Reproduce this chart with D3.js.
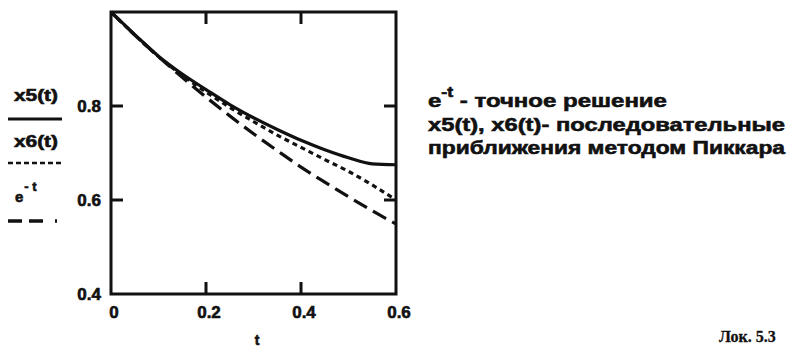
<!DOCTYPE html>
<html>
<head>
<meta charset="utf-8">
<script src="https://cdn.jsdelivr.net/npm/d3@7"></script>
<style>
  body { margin: 0; background: #fff; }
  text { font-family: "Liberation Sans", Arial, sans-serif; font-weight: bold; fill: #111;
         stroke: #111; stroke-width: 0.6px; }
</style>
</head>
<body>
<div id="chart"></div>
<script>
// values
var tValues   = [0, 0.05, 0.1, 0.15, 0.2, 0.25, 0.3, 0.35, 0.4, 0.45, 0.5, 0.55, 0.6];
var x5Values  = [1, 0.952, 0.906, 0.868, 0.835, 0.803, 0.775, 0.750, 0.727, 0.707, 0.690, 0.677, 0.675];
var x6Values  = [1, 0.951, 0.905, 0.865, 0.830, 0.797, 0.767, 0.738, 0.712, 0.686, 0.661, 0.632, 0.600];
var expValues = [1, 0.951, 0.905, 0.861, 0.819, 0.779, 0.741, 0.705, 0.670, 0.638, 0.607, 0.577, 0.549];
var xTicks = [0, 0.2, 0.4, 0.6];
var yTicks = [0.4, 0.6, 0.8];
var noteLines = ["x5(t), x6(t)- последовательные", "приближения методом Пиккара"];

var width = 790, height = 348;
var svg = d3.select("#chart").append("svg")
    .attr("width", width).attr("height", height);

var x = d3.scaleLinear().domain([0, 0.6]).range([111, 396]);
var y = d3.scaleLinear().domain([0.4, 1.0]).range([294, 12]);

// inner ticks on all four sides
var tickLen = 12;
var g = svg.append("g").attr("stroke", "#111").attr("stroke-width", 3);
[0.2, 0.4].forEach(function(v) {
    g.append("line").attr("x1", x(v)).attr("x2", x(v)).attr("y1", y(0.4)).attr("y2", y(0.4) - tickLen);
    g.append("line").attr("x1", x(v)).attr("x2", x(v)).attr("y1", y(1)).attr("y2", y(1) + tickLen);
});
[0.6, 0.8].forEach(function(v) {
    g.append("line").attr("y1", y(v)).attr("y2", y(v)).attr("x1", x(0)).attr("x2", x(0) + tickLen);
    g.append("line").attr("y1", y(v)).attr("y2", y(v)).attr("x1", x(0.6)).attr("x2", x(0.6) - tickLen);
});

// curves
var line = d3.line().x(function(d) { return x(d[0]); }).y(function(d) { return y(d[1]); })
    .curve(d3.curveMonotoneX);
var series = [
    { vals: x5Values, dash: null },
    { vals: x6Values, dash: "5,4" },
    { vals: expValues, dash: "15,7" }
];
series.forEach(function(s) {
    svg.append("path")
        .datum(tValues.map(function(t, i) { return [t, s.vals[i]]; }))
        .attr("d", line)
        .attr("fill", "none")
        .attr("stroke", "#111")
        .attr("stroke-width", 3.2)
        .attr("stroke-dasharray", s.dash);
});

// frame
svg.append("rect")
    .attr("x", x(0)).attr("y", y(1))
    .attr("width", x(0.6) - x(0)).attr("height", y(0.4) - y(1))
    .attr("fill", "none").attr("stroke", "#111").attr("stroke-width", 3);

// tick labels
svg.selectAll(".xl").data(xTicks).enter().append("text")
    .attr("x", function(d) { return x(d) + 3; })
    .attr("y", 318)
    .attr("text-anchor", "middle")
    .style("font-size", "17px")
    .text(function(d) { return d === 0 ? "0" : d.toFixed(1); });
svg.selectAll(".yl").data(yTicks).enter().append("text")
    .attr("x", 101)
    .attr("y", function(d) { return y(d) + 6; })
    .attr("text-anchor", "end")
    .style("font-size", "17px")
    .text(function(d) { return d.toFixed(1); });
svg.append("text").attr("x", 257).attr("y", 345).attr("text-anchor", "middle")
    .style("font-size", "14px").text("t");

// legend on the left
svg.append("text").attr("x", 14).attr("y", 101).attr("textLength", 44)
    .attr("lengthAdjust", "spacingAndGlyphs")
    .style("font-size", "16px").text("x5(t)");
svg.append("line").attr("x1", 8).attr("x2", 62).attr("y1", 119).attr("y2", 119)
    .attr("stroke", "#111").attr("stroke-width", 3);
svg.append("text").attr("x", 14).attr("y", 147).attr("textLength", 44)
    .attr("lengthAdjust", "spacingAndGlyphs")
    .style("font-size", "16px").text("x6(t)");
svg.append("line").attr("x1", 8).attr("x2", 61).attr("y1", 163).attr("y2", 163)
    .attr("stroke", "#111").attr("stroke-width", 2.5).attr("stroke-dasharray", "5,3");
var eLab = svg.append("text").attr("x", 15).attr("y", 202).style("font-size", "15px");
eLab.append("tspan").text("e");
eLab.append("tspan").attr("dy", -11).attr("dx", 1).style("font-size", "13px").text("- t");
svg.append("line").attr("x1", 8).attr("x2", 58).attr("y1", 221).attr("y2", 221)
    .attr("stroke", "#111").attr("stroke-width", 3.5).attr("stroke-dasharray", "14,7,14,12,2");

// note on the right
var n1 = svg.append("text").attr("x", 428).attr("y", 107).style("font-size", "19px")
    .attr("textLength", 239).attr("lengthAdjust", "spacingAndGlyphs");
n1.append("tspan").text("e");
n1.append("tspan").attr("dy", -10).style("font-size", "14px").text("-t");
n1.append("tspan").attr("dy", 10).text(" - точное решение");
noteLines.forEach(function(s, i) {
    svg.append("text").attr("x", 428).attr("y", 131 + i * 23)
        .attr("textLength", 357).attr("lengthAdjust", "spacingAndGlyphs")
        .style("font-size", "19px").text(s);
});

svg.append("text").attr("x", 719).attr("y", 342)
    .style("font-family", "'Liberation Serif', serif").style("font-size", "16px")
    .style("stroke-width", "0.3px")
    .text("Лок. 5.3");
</script>
</body>
</html>
